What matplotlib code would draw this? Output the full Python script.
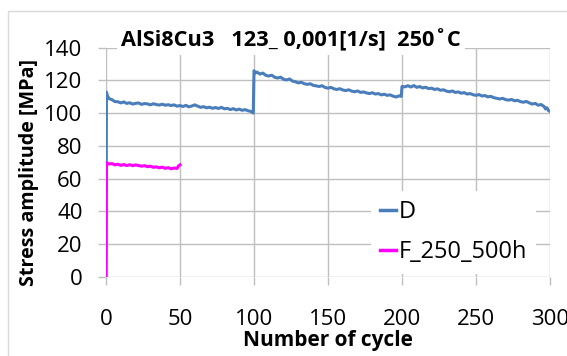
import matplotlib

matplotlib.use("Agg")
import matplotlib.pyplot as plt
from matplotlib.patches import Rectangle

plt.rcParams["font.family"] = ["Open Sans", "DejaVu Sans"]

TITLE = "AlSi8Cu3   123_ 0,001[1/s]  250˚C"
X_LABEL = "Number of cycle"
Y_LABEL = "Stress amplitude [MPa]"
X_TICKS = [0, 50, 100, 150, 200, 250, 300]
Y_TICKS = [0, 20, 40, 60, 80, 100, 120, 140]

# series D: cycle number / stress amplitude
d_cycles = [
    0, 0.3, 1, 2, 4, 6, 8, 10, 12, 14, 16, 18, 20, 22, 24, 26, 28, 30, 32, 34,
    36, 38, 40, 42, 44, 46, 48, 50, 52, 54, 56, 58, 60, 62, 64, 66, 68, 70, 72,
    74, 76, 78, 80, 82, 84, 86, 88, 90, 92, 94, 96, 98, 99.5,
    100, 101, 102, 104, 106, 108, 110, 112, 114, 116, 118, 120, 122, 124, 126,
    128, 130, 132, 134, 136, 138, 140, 142, 144, 146, 148, 150, 152, 154, 156,
    158, 160, 162, 164, 166, 168, 170, 172, 174, 176, 178, 180, 182, 184, 186,
    188, 190, 192, 194, 196, 198, 199.5,
    200, 202, 204, 206, 208, 210, 212, 214, 216, 218, 220, 222, 224, 226, 228,
    230, 232, 234, 236, 238, 240, 242, 244, 246, 248, 250, 252, 254, 256, 258,
    260, 262, 264, 266, 268, 270, 272, 274, 276, 278, 280, 282, 284, 286, 288,
    290, 292, 294, 296, 297, 298, 299, 300,
]
d_stress = [
    0, 112.8, 110.5, 108.8, 108.2, 107.0, 106.9, 106.2, 106.8, 105.9, 106.3,
    105.5, 105.9, 106.2, 105.3, 105.8, 105.6, 105.0, 105.7, 105.2, 104.9, 105.4,
    104.8, 105.1, 104.6, 105.0, 104.2, 104.6, 104.0, 104.7, 103.8, 104.3, 105.0,
    104.2, 103.5, 103.9, 103.2, 103.6, 102.9, 103.4, 102.8, 103.5, 102.6, 102.9,
    102.1, 102.7, 101.9, 102.4, 101.7, 102.1, 101.4, 101.0, 100.0,
    125.8, 124.5, 125.0, 123.8, 124.4, 123.0, 122.6, 123.1, 121.8, 121.4, 121.9,
    120.6, 120.2, 120.8, 119.5, 119.1, 118.4, 118.8, 117.9, 117.5, 117.9, 116.9,
    116.6, 116.2, 116.7, 115.6, 115.2, 115.7, 114.8, 114.4, 114.9, 114.1, 113.7,
    114.2, 113.4, 113.0, 113.5, 112.6, 112.9, 112.3, 111.9, 112.4, 111.6, 111.9,
    111.1, 111.5, 110.8, 111.1, 110.3, 109.8, 110.5, 110.2,
    116.2, 116.0, 116.7, 115.9, 116.8, 115.7, 116.2, 115.3, 115.8, 114.9, 115.2,
    114.4, 114.8, 113.9, 114.2, 113.4, 113.0, 113.5, 112.6, 112.9, 112.1, 112.5,
    111.6, 111.9, 111.2, 110.8, 111.3, 110.4, 110.7, 109.9, 110.2, 109.4, 109.0,
    108.6, 109.0, 108.2, 107.9, 108.3, 107.5, 107.8, 107.0, 106.6, 107.1, 106.2,
    105.5, 105.9, 104.8, 105.2, 104.0, 102.5, 103.2, 101.5, 101.0,
]

# series F_250_500h
f_cycles = [0, 0.3, 2, 4, 6, 8, 10, 12, 14, 16, 18, 20, 22, 24, 26, 28, 30,
            32, 34, 36, 38, 40, 42, 44, 46, 48, 49, 50]
f_stress = [0, 69.8, 68.9, 69.2, 68.4, 68.8, 68.1, 68.6, 68.0, 68.5, 67.9,
            68.4, 68.0, 67.6, 67.9, 67.3, 67.6, 66.9, 67.2, 66.6, 67.0, 66.3,
            66.7, 66.0, 66.5, 66.2, 67.8, 68.4]

GRID = "#BFBFBF"

fig = plt.figure(figsize=(5.67, 3.56), dpi=100)
frame = Rectangle((8 / 567, -0.1), 1.2, 1.1 - 11 / 356, transform=fig.transFigure,
                  facecolor="white", edgecolor="#D9D9D9", linewidth=1.0, zorder=-10)
fig.add_artist(frame)

ax = fig.add_axes([106 / 567, 1 - 277 / 356, 444 / 567, 229.5 / 356])
ax.set_facecolor("none")
ax.set_zorder(1)
ax.plot(d_cycles, d_stress, color="#4A7EBB", lw=2.2, label="D", zorder=3)
ax.plot(f_cycles, f_stress, color="#FF00FF", lw=2.2, label="F_250_500h", zorder=4)

ax.set_xlim(0, 300)
ax.set_ylim(0, 140)
ax.set_xticks(X_TICKS)
ax.set_yticks(Y_TICKS)
for s in ax.spines.values():
    s.set_visible(False)
ax.grid(True, color=GRID, lw=1.0, zorder=0)
ax.set_axisbelow(True)
ax.tick_params(axis="both", length=5.8, width=1.0, color=GRID, labelsize=16, labelcolor="black")
ax.tick_params(axis="x", pad=17)
ax.tick_params(axis="y", pad=11)

ax.set_xlabel(X_LABEL, fontsize=15, fontweight="bold", labelpad=0)
ax.set_ylabel(Y_LABEL, fontsize=14.2, fontweight="bold")
ax.yaxis.set_label_coords(-0.152, 0.457)

fig.text(291 / 567, 1 - 40 / 356, TITLE, ha="center", va="center", fontsize=15.7,
         fontweight="bold", zorder=5,
         bbox=dict(facecolor="white", edgecolor="none", pad=3))

leg = ax.legend(loc="upper left", bbox_to_anchor=(371 / 567, 1 - 191 / 356),
                bbox_transform=fig.transFigure, fontsize=17, frameon=True,
                fancybox=False, edgecolor="none", facecolor="white", framealpha=1,
                handlelength=0.64, handletextpad=0.13, labelspacing=0.67,
                borderaxespad=0, borderpad=0.4)
for line in leg.get_lines():
    line.set_linewidth(2.5)

fig.savefig("out.png", dpi=100)
